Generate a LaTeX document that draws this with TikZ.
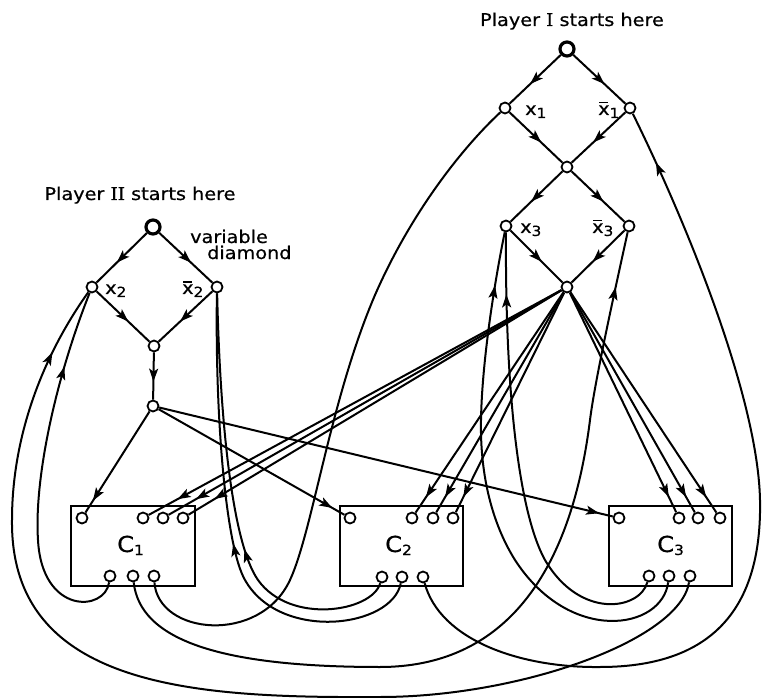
\documentclass[tikz,border=0pt]{standalone}
\usepackage{fontspec}
\setmainfont{DejaVu Sans}[FakeStretch=1.1,FakeBold=0.6]
\newfontfamily\romanfam{DejaVu Serif}[FakeStretch=1.05,FakeBold=0.6]
\usetikzlibrary{arrows.meta,decorations.markings}
\newcommand\sublit[1]{\raisebox{-3pt}{\fontsize{14}{14}\selectfont #1}}
\newcommand\posx[1]{x\sublit{#1}}
\newcommand\negx[1]{\makebox[0pt][l]{\hspace{1pt}\rule[11.5pt]{8.5pt}{1.5pt}}x\sublit{#1}}
\tikzset{
  ln/.style={line width=2pt},
  vpt/.style={circle, draw, line width=1.8pt, fill=white, inner sep=0pt, minimum size=11pt},
  spt/.style={circle, draw, line width=3.2pt, fill=white, inner sep=0pt, minimum size=14pt},
  clausebox/.style={draw, line width=2.1pt, inner sep=0pt, minimum height=80pt},
  txt/.style={inner sep=0pt, font=\fontsize{17.5}{20}\selectfont},
  arr/.style={postaction={decorate}, decoration={markings, mark=at position #1 with {\arrow{Stealth[length=13pt,width=9pt,inset=3pt]}}}},
}
\begin{document}
\begin{tikzpicture}[x=1pt,y=-1pt]
\useasboundingbox (0,0) rectangle (764,698);
% clause boxes
\node[clausebox, minimum width=124pt] (C1) at (133,546) {};
\node[clausebox, minimum width=123pt] (C2) at (401.5,546) {};
\node[clausebox, minimum width=123pt] (C3) at (670.5,546) {};
\node[txt, anchor=base west, font=\fontsize{22}{24}\selectfont] (C1l) at (117,552) {C\sublit{1}};
\node[txt, anchor=base west, font=\fontsize{22}{24}\selectfont] (C2l) at (385,552) {C\sublit{2}};
\node[txt, anchor=base west, font=\fontsize{22}{24}\selectfont] (C3l) at (657,552) {C\sublit{3}};
% texts
\node[txt, anchor=base] (p1t) at (572,26) {Player {\romanfam I} starts here};
\node[txt, anchor=base] (p2t) at (140,200) {Player {\romanfam II} starts here};
\node[txt, anchor=base west] (vd1) at (190,243) {variable};
\node[txt, anchor=base west] (vd2) at (207,259) {diamond};
\node[txt, anchor=base west] (lx1) at (525,115) {\posx{1}};
\node[txt, anchor=base west] (lnx1) at (598,115) {\negx{1}};
\node[txt, anchor=base west] (lx3) at (520,233) {\posx{3}};
\node[txt, anchor=base west] (lnx3) at (592,233) {\negx{3}};
\node[txt, anchor=base west] (lx2) at (105,294) {\posx{2}};
\node[txt, anchor=base west] (lnx2) at (182,294) {\negx{2}};
% Player I diamond
\node[spt] (s1) at (567,49) {};
\node[vpt] (x1) at (505,108) {};
\node[vpt] (nx1) at (630,108) {};
\node[vpt] (m1) at (567,167) {};
\node[vpt] (x3) at (506,226) {};
\node[vpt] (nx3) at (629,226) {};
\node[vpt] (b1) at (567,287) {};
% Player II diamond
\node[spt] (s2) at (153,227) {};
\node[vpt] (x2) at (92,287) {};
\node[vpt] (nx2) at (217,287) {};
\node[vpt] (m2) at (154,346) {};
\node[vpt] (b2) at (153,406) {};
% clause circles
\node[vpt] (c1a) at (82,518) {};
\node[vpt] (c1p) at (143,518) {};
\node[vpt] (c1q) at (163,518) {};
\node[vpt] (c1r) at (183,518) {};
\node[vpt] (c1x) at (110,576) {};
\node[vpt] (c1y) at (133,576) {};
\node[vpt] (c1z) at (154,576) {};
\node[vpt] (c2a) at (350,518) {};
\node[vpt] (c2p) at (412,518) {};
\node[vpt] (c2q) at (433,518) {};
\node[vpt] (c2r) at (453,518) {};
\node[vpt] (c2x) at (382,577) {};
\node[vpt] (c2y) at (402,577) {};
\node[vpt] (c2z) at (423,577) {};
\node[vpt] (c3a) at (619,518) {};
\node[vpt] (c3p) at (679,518) {};
\node[vpt] (c3q) at (698,518) {};
\node[vpt] (c3r) at (720,518) {};
\node[vpt] (c3x) at (649,576) {};
\node[vpt] (c3y) at (669,576) {};
\node[vpt] (c3z) at (690,576) {};
% diamond edges
\draw[ln, arr=0.6] (s1) -- (x1);
\draw[ln, arr=0.6] (s1) -- (nx1);
\draw[ln, arr=0.6] (x1) -- (m1);
\draw[ln, arr=0.6] (nx1) -- (m1);
\draw[ln, arr=0.6] (m1) -- (x3);
\draw[ln, arr=0.6] (m1) -- (nx3);
\draw[ln, arr=0.6] (x3) -- (b1);
\draw[ln, arr=0.6] (nx3) -- (b1);
\draw[ln, arr=0.6] (s2) -- (x2);
\draw[ln, arr=0.6] (s2) -- (nx2);
\draw[ln, arr=0.6] (x2) -- (m2);
\draw[ln, arr=0.6] (nx2) -- (m2);
\draw[ln, arr=0.62] (m2) -- (b2);
% Player I to clauses
\foreach \t in {c1p,c1q,c1r,c2p,c2q,c2r,c3p,c3q,c3r}
  \draw[ln, arr=0.93] (b1) -- (\t);
% Player II to clauses
\foreach \t in {c1a,c2a,c3a}
  \draw[ln, arr=-14pt] (b2) -- (\t);
% literal connections
\draw[ln, arr=-78pt] (c1x) .. controls (105,612) and (42,615) .. (38,540) .. controls (34,480) and (55,380) .. (x2);
\draw[ln, arr=-70pt] (c3z) .. controls (680,640) and (520,697) .. (380,697) .. controls (200,698) and (10,690) .. (12,520) .. controls (12,440) and (40,360) .. (x2);
\draw[ln, arr=-56pt] (c1y) .. controls (140,640) and (220,667) .. (380,667) .. controls (500,667) and (570,580) .. (590,420) .. controls (595,380) and (615,290) .. (nx3);
\draw[ln] (c1z) .. controls (158,635) and (260,645) .. (290,580) .. controls (313,530) and (330,400) .. (375,295) .. controls (410,215) and (460,150) .. (x1);
\draw[ln, arr=-258pt] (c2x) .. controls (372,612) and (290,625) .. (258,580) .. controls (232,543) and (220,420) .. (nx2);
\draw[ln, arr=-251pt] (c2y) .. controls (392,628) and (280,642) .. (245,580) .. controls (226,547) and (215,420) .. (nx2);
\draw[ln, arr=-54pt] (c2z) .. controls (440,640) and (520,668) .. (600,667) .. controls (720,667) and (762,600) .. (760,500) .. controls (758,400) and (690,230) .. (nx1);
\draw[ln, arr=-62pt] (c3x) .. controls (640,610) and (580,620) .. (545,560) .. controls (520,515) and (505,400) .. (x3);
\draw[ln, arr=-54pt] (c3y) .. controls (662,630) and (570,645) .. (515,560) .. controls (490,520) and (480,470) .. (481,420) .. controls (482,360) and (495,280) .. (x3);
\end{tikzpicture}
\end{document}
